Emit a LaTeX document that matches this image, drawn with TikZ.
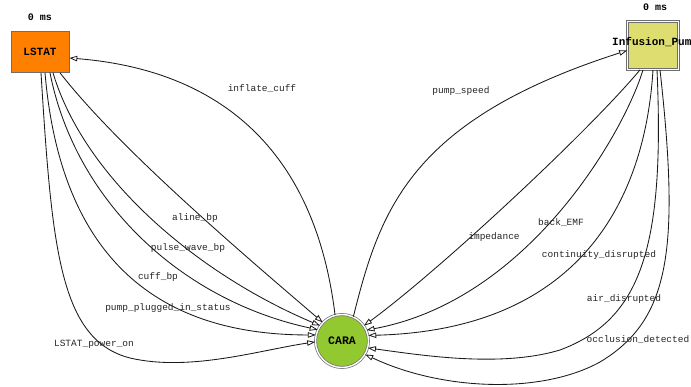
\documentclass[tikz,border=0pt]{standalone}
\usepackage{fontspec}
\setmonofont{Liberation Mono}
\usetikzlibrary{arrows.meta}
\definecolor{lorange}{RGB}{255,128,0}
\definecolor{pumpyellow}{RGB}{222,222,112}
\definecolor{caragreen}{RGB}{146,200,48}
\definecolor{bordergray}{RGB}{110,110,110}
\begin{document}
\begin{tikzpicture}[x=1pt,y=-1pt,
  lbl/.style={font=\ttfamily\fontsize{9.5}{10}\selectfont, inner sep=0pt, text=black!85},
  boldlbl/.style={font=\ttfamily\bfseries\fontsize{10}{11}\selectfont, inner sep=0pt},
  edge/.style={draw=black!90, line width=0.85pt},
  arr/.style={-{Triangle[open,length=8pt,width=5.5pt,line width=0.8pt]}},
  dblborder/.style={draw=bordergray, line width=0.7pt, double=white, double distance=1.4pt}]
\useasboundingbox[fill=white] (0,0) rectangle (691,387);

% nodes
\node[draw=bordergray, line width=0.6pt, fill=lorange, minimum width=58pt, minimum height=41pt,
      inner sep=0pt, font=\ttfamily\bfseries\fontsize{11}{12}\selectfont] (lstat) at (40,52) {LSTAT};
\node[boldlbl] (lstatms) at (40,17) {0 ms};

\node[dblborder, fill=pumpyellow, minimum width=51pt, minimum height=48pt, inner sep=0pt] (inf) at (653,45.5) {};
\node[font=\ttfamily\bfseries\fontsize{11}{12}\selectfont, inner sep=0pt, anchor=west] (inftxt) at (612,43) {Infusion\_Pump};
\node[boldlbl] (infms) at (655,7) {0 ms};

\node[dblborder, circle, fill=caragreen, minimum size=53pt, inner sep=0pt,
      font=\ttfamily\bfseries\fontsize{11.5}{12}\selectfont] (cara) at (342,341) {CARA};

% edges from CARA back to LSTAT / Infusion_Pump
\draw[edge,arr] (cara.105) .. controls (315,150) and (220,70) .. ([yshift=-6pt]lstat.east);
\draw[edge,arr] (cara.65) .. controls (380,210) and (410,120) .. ([yshift=-5pt]inf.west);

% LSTAT -> CARA
\draw[edge,arr] ([xshift=20pt]lstat.south) .. controls (120,150) and (250,260) .. (cara.136);
\draw[edge,arr] ([xshift=13pt]lstat.south) .. controls (85,180) and (200,275) .. (cara.145);
\draw[edge,arr] ([xshift=10pt]lstat.south) .. controls (75,200) and (180,300) .. (cara.155);
\draw[edge,arr] ([xshift=5pt]lstat.south) .. controls (60,250) and (150,335) .. (cara.167);
\draw[edge,arr] ([xshift=1pt]lstat.south) .. controls (52,250) and (60,340) .. (130,358)
                .. controls (190,372) and (260,350) .. (cara.182);

% Infusion_Pump -> CARA
\draw[edge,arr] ([xshift=-13pt]inf.south) .. controls (590,130) and (440,270) .. (cara.35);
\draw[edge,arr] ([xshift=-10pt]inf.south) .. controls (625,130) and (530,300) .. (cara.24);
\draw[edge,arr] (inf.south) .. controls (645,200) and (580,330) .. (cara.12);
\draw[edge,arr] ([xshift=4pt]inf.south) .. controls (665,250) and (640,320) .. (560,350)
                .. controls (500,368) and (420,355) .. (cara.-15);
\draw[edge,arr] ([xshift=7pt]inf.south) .. controls (680,250) and (670,320) .. (600,362)
                .. controls (540,395) and (440,390) .. (cara.-30);

% edge labels
\node[lbl] (l1) at (262,89) {inflate\_cuff};
\node[lbl] (l2) at (461,91) {pump\_speed};
\node[lbl] (l3) at (195,218) {aline\_bp};
\node[lbl] (l4) at (188,248) {pulse\_wave\_bp};
\node[lbl] (l5) at (158,277) {cuff\_bp};
\node[lbl] (l6) at (168,308) {pump\_plugged\_in\_status};
\node[lbl] (l7) at (94,344) {LSTAT\_power\_on};
\node[lbl] (l8) at (494,237) {impedance};
\node[lbl] (l9) at (561,223) {back\_EMF};
\node[lbl] (l10) at (599,255) {continuity\_disrupted};
\node[lbl] (l11) at (624,299) {air\_disrupted};
\node[lbl] (l12) at (638,340) {occlusion\_detected};
\end{tikzpicture}
\end{document}
